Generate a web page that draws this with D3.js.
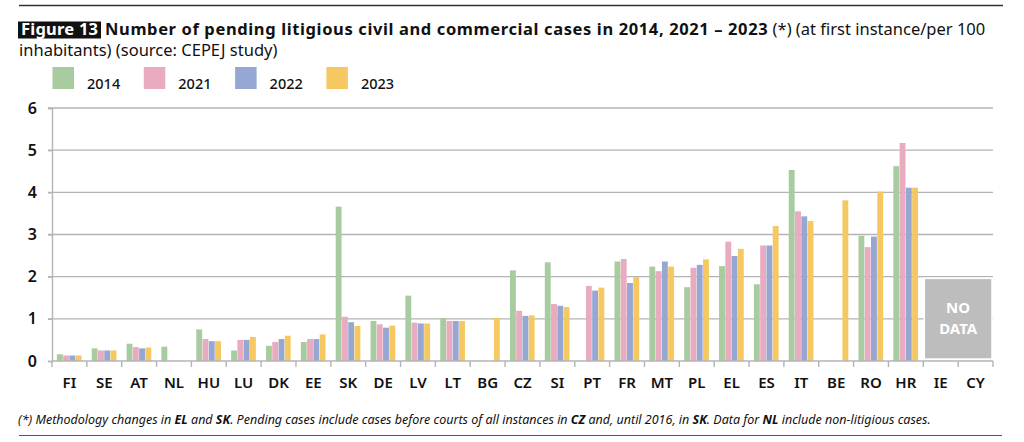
<!DOCTYPE html>
<html>
<head>
<meta charset="utf-8">
<script src="https://cdn.jsdelivr.net/npm/d3@7"></script>
<style>
  html, body { margin: 0; padding: 0; background: #fff; }
  svg { display: block; font-family: "Noto Sans", "Open Sans", sans-serif; }
</style>
</head>
<body>
<div id="chart"></div>
<script>
// Pending litigious civil and commercial cases per 100 inhabitants
const countries = ['FI','SE','AT','NL','HU','LU','DK','EE','SK','DE','LV','LT','BG','CZ','SI','PT','FR','MT','PL','EL','ES','IT','BE','RO','HR','IE','CY'];
const years = ['2014','2021','2022','2023'];
const v2014 = [0.16,0.30,0.41,0.34,0.75,0.25,0.36,0.45,3.66,0.95,1.55,1.02,null,2.15,2.34,null,2.36,2.24,1.75,2.25,1.82,4.53,null,2.97,4.62,null,null];
const v2021 = [0.13,0.25,0.33,null,0.52,0.50,0.45,0.52,1.05,0.87,0.91,0.95,null,1.19,1.35,1.78,2.42,2.13,2.21,2.83,2.74,3.55,null,2.70,5.17,null,null];
const v2022 = [0.13,0.25,0.30,null,0.47,0.50,0.52,0.52,0.92,0.79,0.89,0.95,null,1.07,1.31,1.67,1.85,2.36,2.28,2.49,2.74,3.43,null,2.95,4.11,null,null];
const v2023 = [0.13,0.25,0.32,null,0.47,0.57,0.60,0.63,0.83,0.84,0.89,0.95,1.02,1.08,1.28,1.74,1.99,2.24,2.41,2.66,3.20,3.32,3.81,4.02,4.11,null,null];
const yTicks = [0,1,2,3,4,5,6];
const noData = ['IE','CY'];
const colors = ['#a8cb9f','#e8abc0','#95a7d2','#f5c862'];

const series = [v2014, v2021, v2022, v2023];

const W = 1024, H = 442;
const m = { left: 52, right: 31, top: 108, bottom: 81 };

const svg = d3.select('#chart').append('svg')
  .attr('width', W).attr('height', H);

// top and bottom rules
svg.append('line').attr('x1', 19).attr('x2', 1003).attr('y1', 5.5).attr('y2', 5.5)
  .attr('stroke', '#333').attr('stroke-width', 1.6);
svg.append('line').attr('x1', 19).attr('x2', 1002).attr('y1', 435.5).attr('y2', 435.5)
  .attr('stroke', '#555').attr('stroke-width', 1.2);

// title
svg.append('rect').attr('x', 18).attr('y', 21.5).attr('width', 83).attr('height', 17).attr('fill', '#111');
svg.append('text').attr('x', 21).attr('y', 35).attr('fill', '#fff')
  .attr('font-size', 16.5).attr('font-weight', 700).attr('textLength', 77).text('Figure 13');
const t1 = svg.append('text').attr('x', 105).attr('y', 35).attr('font-size', 16.5).attr('fill', '#111');
t1.append('tspan').attr('font-weight', 700).attr('letter-spacing', 0.62)
  .text('Number of pending litigious civil and commercial cases in 2014, 2021 – 2023');
t1.append('tspan').attr('letter-spacing', 0).text(' (*) (at first instance/per 100');
svg.append('text').attr('x', 19).attr('y', 56).attr('font-size', 16.5).attr('fill', '#111')
  .text('inhabitants) (source: CEPEJ study)');

// legend
const leg = svg.append('g').selectAll('g').data(years).join('g')
  .attr('transform', (d, i) => `translate(${52.5 + i * 91.3},67)`);
leg.append('rect').attr('width', 21.5).attr('height', 22).attr('fill', (d, i) => colors[i]);
leg.append('text').attr('x', 34.5).attr('y', 21.5).attr('font-size', 14.5).attr('font-weight', 500)
  .attr('fill', '#111').text(d => d);

const x0 = d3.scaleBand().domain(countries).range([m.left, W - m.right])
  .paddingInner(0.28).paddingOuter(0.14);
const x1 = d3.scaleBand().domain(d3.range(years.length)).range([0, x0.bandwidth()]);
const y = d3.scaleLinear().domain([0, 6]).range([H - m.bottom, m.top]);

// grid
svg.append('g').selectAll('line').data(yTicks.slice(1)).join('line')
  .attr('x1', m.left - 4).attr('x2', W - m.right)
  .attr('y1', d => y(d)).attr('y2', d => y(d))
  .attr('stroke', '#b4b4b4').attr('stroke-width', 1.4);

// no data box
const nd0 = x0(noData[0]) - x0.step() * x0.paddingInner() / 2;
const nd1 = x0(noData[noData.length - 1]) + x0.bandwidth() + x0.step() * x0.paddingInner() / 2;
svg.append('rect').attr('x', nd0 + 1).attr('y', y(1.96)).attr('width', nd1 - nd0 - 2)
  .attr('height', y(0) - y(1.96) - 2).attr('fill', '#bdbdbd').attr('stroke', '#fff').attr('stroke-width', 1.5);
svg.append('text').attr('x', (nd0 + nd1) / 2).attr('y', y(1.96) + 35).attr('text-anchor', 'middle')
  .attr('font-size', 15).attr('font-weight', 700).attr('fill', '#fff').text('NO');
svg.append('text').attr('x', (nd0 + nd1) / 2).attr('y', y(1.96) + 56).attr('text-anchor', 'middle')
  .attr('font-size', 15).attr('font-weight', 700).attr('fill', '#fff').text('DATA');

// bars
series.forEach((vals, s) => {
  svg.append('g').selectAll('rect')
    .data(countries.map((c, i) => ({ c, v: vals[i] })).filter(d => d.v != null))
    .join('rect')
    .attr('x', d => x0(d.c) + x1(s))
    .attr('width', x1.bandwidth() - 0.4)
    .attr('y', d => y(d.v))
    .attr('height', d => y(0) - y(d.v))
    .attr('fill', colors[s]);
});

// y axis
const yAxis = svg.append('g').attr('transform', `translate(${m.left},0)`)
  .call(d3.axisLeft(y).tickValues(yTicks).tickSize(4).tickPadding(11).tickFormat(d3.format('d')));
yAxis.select('.domain').attr('stroke', '#b4b4b4').attr('stroke-width', 1.4);
yAxis.selectAll('.tick line').attr('stroke', '#b4b4b4').attr('stroke-width', 1.4);
yAxis.selectAll('text').attr('font-size', 16).attr('font-weight', 600).attr('fill', '#111')
  .attr('font-family', '"Noto Sans", sans-serif');

// x axis with ticks at category boundaries
const xa = svg.append('g').attr('transform', `translate(0,${y(0)})`);
xa.append('line').attr('x1', m.left).attr('x2', W - m.right).attr('stroke', '#b4b4b4').attr('stroke-width', 1.4);
const bounds = d3.range(countries.length + 1).map(i => m.left + i * x0.step());
xa.selectAll('.bt').data(bounds).join('line').attr('class', 'bt')
  .attr('x1', d => d).attr('x2', d => d).attr('y1', 0).attr('y2', 6)
  .attr('stroke', '#b4b4b4').attr('stroke-width', 1.4);
xa.selectAll('text').data(countries).join('text')
  .attr('x', d => x0(d) + x0.bandwidth() / 2).attr('y', 27)
  .attr('text-anchor', 'middle').attr('font-size', 15).attr('font-weight', 600).attr('fill', '#111')
  .text(d => d);

// footnote
const fn = svg.append('text').attr('x', 18).attr('y', 424).attr('font-size', 12.5).attr('font-style', 'italic').attr('fill', '#111');
[['(*) Methodology changes in ', 400], ['EL', 700], [' and ', 400], ['SK', 700],
 ['. Pending cases include cases before courts of all instances in ', 400], ['CZ', 700],
 [' and, until 2016, in ', 400], ['SK', 700], ['. Data for ', 400], ['NL', 700],
 [' include non-litigious cases.', 400]].forEach(([t, w]) => fn.append('tspan').attr('font-weight', w).text(t));
</script>
</body>
</html>
